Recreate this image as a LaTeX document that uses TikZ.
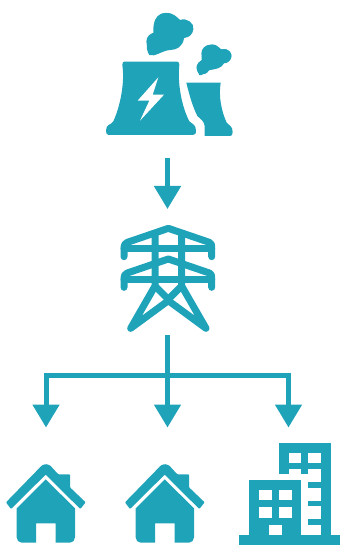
\documentclass[tikz,border=0pt]{standalone}
\usetikzlibrary{arrows.meta}
\definecolor{teal1}{HTML}{1FA3B8}
\tikzset{
  teal fill/.style={fill=teal1,draw=none},
  hole/.style={fill=white,draw=none},
  wire/.style={draw=teal1,line width=5pt,line cap=butt},
  wirearrow/.style={wire,-{Triangle[length=23pt,width=26pt]}},
  pylon line/.style={draw=teal1,line width=7pt,line cap=round,line join=round},
  zoomed/.style={x=0.33333pt,y=-0.33333pt}
}
\newcommand{\housepic}{%
  \fill[teal fill,rounded corners=0.8pt] (137,42) -- (126,46) -- (18,157) -- (33,177) -- (137,74) -- (241,177) -- (257,157) -- (210,112) -- (210,73) -- (175,73) -- (150,46) -- cycle;
  \fill[teal fill] (137,88) -- (50,175) -- (50,262) to[out=-90,in=180] (65,278) -- (108,278) -- (108,220) -- (167,220) -- (167,278) -- (210,278) to[out=0,in=-90] (225,262) -- (225,175) -- cycle;
}
\begin{document}
\begin{tikzpicture}[x=1pt,y=-1pt]
\useasboundingbox (0,0) rectangle (340,545);
% power plant
\begin{scope}[shift={(90,0)},zoomed]
  \fill[teal fill] (103,185) -- (262,185) .. controls (268,186) and (268,190) .. (268,195)
    .. controls (262,250) and (275,320) .. (298,364) .. controls (305,372) and (318,372) .. (318,392)
    .. controls (318,402) and (314,405) .. (308,405) -- (56,405) .. controls (50,405) and (48,400) .. (48,392)
    .. controls (48,372) and (62,376) .. (70,364) .. controls (90,320) and (105,250) .. (97,195)
    .. controls (97,188) and (99,185) .. (103,185) -- cycle;
  \fill[hole] (205,232) -- (143,302) -- (178,302) -- (150,362) -- (222,284) -- (188,284) -- cycle;
  \fill[teal fill] (289,248) -- (392,248) .. controls (385,290) and (395,335) .. (410,368)
    .. controls (416,378) and (428,376) .. (428,396) .. controls (428,405) and (425,408) .. (420,408)
    -- (344,408) -- (344,378) .. controls (342,362) and (332,358) .. (322,348) .. controls (308,320) and (298,285) .. (289,248) -- cycle;
  % smoke
  \fill[teal fill] (178,165) .. controls (168,150) and (164,120) .. (190,98)
    .. controls (188,65) and (200,39) .. (228,39) .. controls (250,38) and (262,52) .. (270,60)
    .. controls (290,52) and (314,70) .. (310,88) .. controls (308,105) and (288,108) .. (282,115)
    .. controls (278,140) and (260,150) .. (240,150) .. controls (215,152) and (195,172) .. (178,165) -- cycle;
  \fill[teal fill] (228,74) circle[radius=11.8pt];
  \fill[teal fill] (283,87) circle[radius=8.8pt];
  \fill[teal fill] (196,125) circle[radius=9pt];
  \fill[teal fill] (328,225) .. controls (316,210) and (318,188) .. (335,180)
    .. controls (332,155) and (350,132) .. (368,133) .. controls (385,135) and (390,148) .. (395,148)
    .. controls (415,145) and (428,160) .. (424,172) .. controls (420,185) and (408,190) .. (402,190)
    .. controls (395,205) and (375,208) .. (360,210) .. controls (345,215) and (335,230) .. (328,225) -- cycle;
  \fill[teal fill] (361,161) circle[radius=9pt];
  \fill[teal fill] (403,168) circle[radius=7pt];
  \fill[teal fill] (339,203) circle[radius=6.5pt];
\end{scope}
% pylon
\begin{scope}[shift={(100,210)},zoomed]
  \draw[pylon line] (72,140) -- (72,112) .. controls (72,105) and (75,100) .. (82,97) -- (205,55) -- (328,97) .. controls (335,100) and (335,105) .. (335,112) -- (335,140);
  \draw[pylon line] (72,232) -- (72,204) .. controls (72,197) and (75,192) .. (82,189) -- (205,147) -- (328,189) .. controls (335,192) and (335,197) .. (335,204) -- (335,232);
  \draw[pylon line] (72,115) -- (335,115);
  \draw[pylon line] (72,207) -- (335,207);
  \draw[pylon line] (165,75) -- (165,228) -- (92,355) -- (205,272) -- (318,355) -- (245,228) -- (245,75);
  \draw[pylon line] (165,228) -- (205,268) -- (245,228);
\end{scope}
% houses
\begin{scope}[shift={(0,450)},zoomed]\housepic\end{scope}
\begin{scope}[shift={(119,450)},zoomed]\housepic\end{scope}
% building
\begin{scope}[shift={(230,435)},zoomed]
  \fill[teal fill] (28,300) rectangle (330,330);
  \fill[teal fill] (58,135) rectangle (213,300);
  \fill[teal fill] (146,24) rectangle (302,118);
  \fill[teal fill] (272,118) rectangle (302,300);
  \fill[teal fill] (234,140) rectangle (272,158);
  \fill[teal fill] (234,197) rectangle (272,213);
  \fill[teal fill] (234,253) rectangle (272,270);
  \fill[hole] (176,54) rectangle (214,84);
  \fill[hole] (234,54) rectangle (272,84);
  \fill[hole] (176,103) rectangle (214,118);
  \fill[hole] (234,103) rectangle (272,118);
  \fill[hole] (88,165) rectangle (126,195);
  \fill[hole] (146,165) rectangle (185,195);
  \fill[hole] (88,215) rectangle (126,250);
  \fill[hole] (146,215) rectangle (185,250);
  \fill[hole] (117,270) rectangle (155,300);
\end{scope}
% connectors
\coordinate (plantout) at (167.5,158);
\coordinate (pylonin) at (167.5,209);
\coordinate (pylonout) at (167.5,335);
\coordinate (junction) at (167.5,375.5);
\coordinate (house1in) at (46,427.5);
\coordinate (house2in) at (167.5,427.5);
\coordinate (officein) at (288.5,427.5);
\draw[wirearrow] (plantout) -- (pylonin);
\draw[wirearrow] (pylonout) -- (house2in);
\draw[wirearrow] (junction) -| (house1in);
\draw[wirearrow] (junction) -| (officein);
\end{tikzpicture}
\end{document}
